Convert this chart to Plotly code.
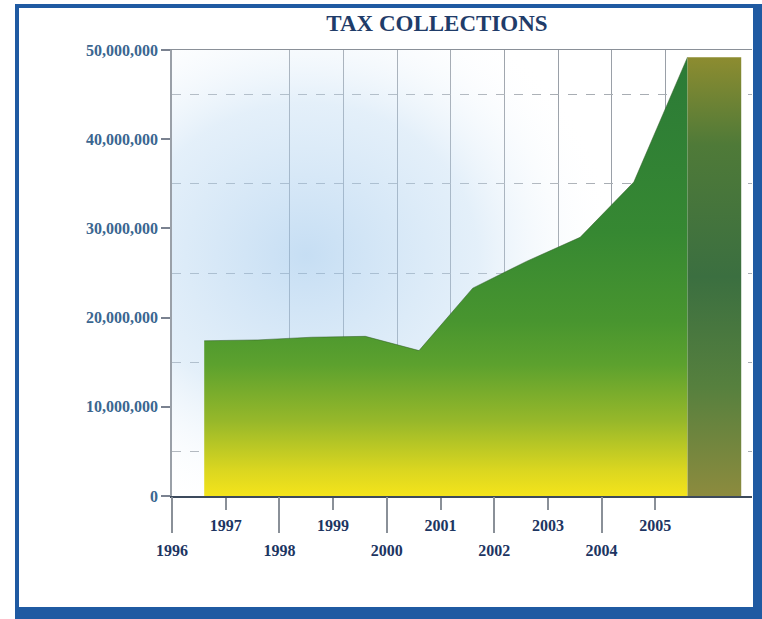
import plotly.graph_objects as go

# --- data -------------------------------------------------------------
years = [1996, 1997, 1998, 1999, 2000, 2001, 2002, 2003, 2004, 2005]
tax = [17_400_000, 17_500_000, 17_800_000, 17_900_000, 16_300_000,
       23_300_000, 26_300_000, 29_000_000, 35_200_000, 49_200_000]

odd_years = [1997, 1999, 2001, 2003, 2005]
even_years = [1996, 1998, 2000, 2002, 2004]
grid_years = [1998, 1999, 2000, 2001, 2002, 2003, 2004, 2005]
y_ticks = [0, 10_000_000, 20_000_000, 30_000_000, 40_000_000, 50_000_000]
y_labels = ["0", "10,000,000", "20,000,000", "30,000,000", "40,000,000", "50,000,000"]
y_dashed = [5_000_000, 15_000_000, 25_000_000, 35_000_000, 45_000_000]

# --- geometry ---------------------------------------------------------
W, H = 762, 619
L, R, T, B = 172, 10, 50, 123
PW, PH = W - L - R, H - T - B
PX_PER_YEAR = 53.7
SHIFT = 0.6          # areas sit a little to the right of their label
GRID_SHIFT = 0.19    # back-wall grid is offset (3D look)
x_range = [1996, 1996 + PW / PX_PER_YEAR]
y_range = [0, 50_000_000]

NAVY = "#1d3562"
STEEL = "#3b6690"
BLUE = "#1f5aa2"
SERIF = "Liberation Serif"


def px(xp):
    return (xp - L) / PW


def py(yp):
    return 1 - (yp - T) / PH


fig = go.Figure()

# soft blue glow on the back wall
cx, cy = 1998.5, 27_000_000
hw, hh = 5.8, 31_000_000
fig.add_trace(go.Scatter(
    x=[cx - hw, cx + hw, cx + hw, cx - hw, cx - hw],
    y=[cy - hh, cy - hh, cy + hh, cy + hh, cy - hh],
    mode="lines", line=dict(width=0), fill="toself",
    fillgradient=dict(type="radial",
                      colorscale=[[0, "rgba(160,200,236,0.6)"],
                                  [0.55, "rgba(190,218,242,0.42)"],
                                  [1, "rgba(255,255,255,0)"]]),
    hoverinfo="skip", showlegend=False))

# the collections area
xs = [y + SHIFT for y in years]
fig.add_trace(go.Scatter(
    x=xs, y=tax, mode="lines", fill="tozeroy",
    line=dict(color="rgba(45,90,35,0.5)", width=1),
    fillgradient=dict(type="vertical",
                      colorscale=[[0, "#f4e41b"], [0.06, "#dad620"],
                                  [0.17, "#97b82a"], [0.3, "#5ca12e"],
                                  [0.4, "#48952f"], [0.6, "#368832"],
                                  [1, "#2b7a37"]]),
    showlegend=False))

# right side face of the 3D area
xe, ve = xs[-1], tax[-1]
fig.add_trace(go.Scatter(
    x=[xe, xe, xe + 1, xe + 1, xe], y=[0, ve, ve, 0, 0],
    mode="lines", line=dict(width=0), fill="toself",
    fillgradient=dict(type="vertical",
                      colorscale=[[0, "#8c8b3e"], [0.25, "#56803e"],
                                  [0.5, "#3b6f40"], [0.8, "#4f7a38"],
                                  [1, "#8d8c30"]]),
    showlegend=False))

tick_font = dict(family=SERIF, size=16, color=NAVY, weight="bold")

fig.update_layout(
    width=W, height=H,
    margin=dict(l=L, r=R, t=T, b=B),
    paper_bgcolor="white", plot_bgcolor="white",
    title=dict(text="TAX COLLECTIONS", x=px(437), xref="paper", xanchor="center",
               y=1 - 23 / H, yanchor="middle",
               font=dict(family=SERIF, size=23, color="#1f3c69", weight="bold")),
    xaxis=dict(range=x_range, tickvals=odd_years, ticktext=[str(y) for y in odd_years],
               ticks="outside", ticklen=12, tickcolor="#8a9098", tickwidth=1.5,
               tickfont=tick_font, ticklabelstandoff=2,
               showgrid=False, zeroline=False,
               showline=True, linecolor="#3c4a5c", linewidth=1.5),
    xaxis2=dict(range=[x_range[0] - GRID_SHIFT, x_range[1] - GRID_SHIFT],
                overlaying="x", anchor="y", side="top",
                tickvals=grid_years, showticklabels=False, ticks="",
                showgrid=True, gridcolor="#9aa0a8", gridwidth=1,
                zeroline=False, showline=True, linecolor="#8a9098", linewidth=1),
    xaxis3=dict(range=x_range, overlaying="x", anchor="y", side="bottom",
                tickvals=even_years, ticktext=[str(y) for y in even_years],
                ticks="outside", ticklen=36, tickcolor="#8a9098", tickwidth=1.5,
                tickfont=tick_font, ticklabelstandoff=4,
                showgrid=False, zeroline=False, showline=False),
    yaxis=dict(range=y_range, tickvals=y_ticks, ticktext=y_labels,
               ticks="outside", ticklen=9, tickcolor="#7a8290", tickwidth=1.5,
               tickfont=dict(family=SERIF, size=16, color=STEEL, weight="bold"),
               showgrid=False, zeroline=False,
               showline=True, linecolor="#9aa0a8", linewidth=1.5),
    yaxis2=dict(range=y_range, overlaying="y", anchor="x",
                tickvals=y_dashed, showticklabels=False, ticks="",
                showgrid=True, gridcolor="#a8adb3", griddash="dash", gridwidth=1,
                zeroline=False, showline=False),
)

# empty traces so the overlay axes are drawn
fig.add_trace(go.Scatter(x=[], y=[], xaxis="x2", yaxis="y2", showlegend=False))
fig.add_trace(go.Scatter(x=[], y=[], xaxis="x3", yaxis="y", showlegend=False))

# blue frame around the whole card
frame = [(15, 4, 19, 619), (15, 4, 762, 8), (753, 4, 762, 619), (15, 607, 762, 619)]
for x0, y0, x1, y1 in frame:
    fig.add_shape(type="rect", xref="paper", yref="paper",
                  x0=px(x0), x1=px(x1), y0=py(y1), y1=py(y0),
                  fillcolor=BLUE, line=dict(width=0), layer="above")

# drop the default page margin so the figure sits at the window origin
fig.write_html("out.html", config={"displayModeBar": False},
               post_script="document.body.style.margin='0';")
